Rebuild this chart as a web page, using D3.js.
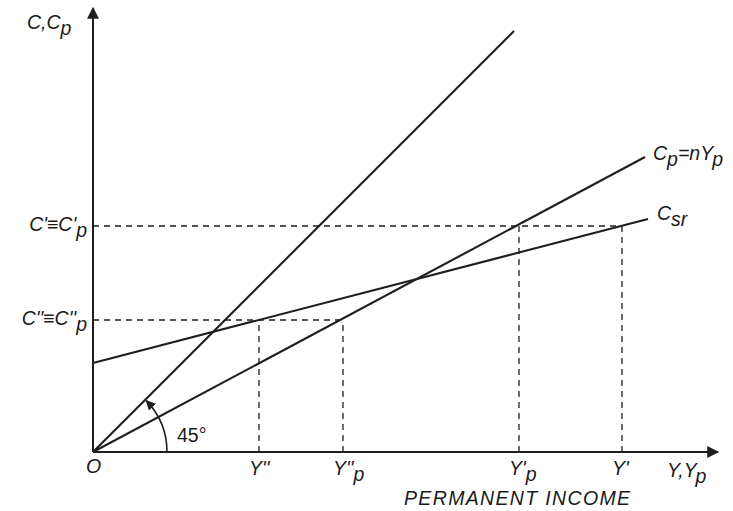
<!DOCTYPE html>
<html><head><meta charset="utf-8">
<script src="https://cdn.jsdelivr.net/npm/d3@7"></script>
<style>
html,body{margin:0;padding:0;background:#fff;}
text{font-family:"Liberation Sans",Arial,sans-serif;fill:#1a1a1a;}
</style></head>
<body><svg id="chart" width="733" height="511"></svg>
<script>
// ---- data (in chart units) ----
const xMax = 625, yMax = 444;
const line45 = [[0, 0], [421, 421]];
const cpLine = [[0, 0], [552, 295]];          // Cp = nYp
const csrLine = [[0, 89], [555, 233]];        // Csr
const yLevels = [132, 226];                   // C'' , C'
const yLevelEnds = [250, 529];                // dashed to Y''p , Y'
const yLabelMain = ["C''≡C''", "C'≡C'"];
const yLabelSub = ["p", "p"];
const xTicks = [166, 250, 426, 529];
const xTickMain = ["Y''", "Y''", "Y'", "Y'"];
const xTickSub = ["", "p", "p", ""];
const xTickTop = [132, 132, 226, 226];
const angleLabel = "45°";

const svg = d3.select("#chart");
const x = d3.scaleLinear().domain([0, xMax]).range([93, 718]);
const y = d3.scaleLinear().domain([0, yMax]).range([452, 8]);
const ink = "#1e1e1e";
const FS = 19.5;

const defs = svg.append("defs");
defs.append("marker").attr("id", "arr").attr("viewBox", "0 0 10 10")
  .attr("refX", 9).attr("refY", 5).attr("markerWidth", 10).attr("markerHeight", 10)
  .attr("markerUnits", "userSpaceOnUse").attr("orient", "auto")
  .append("path").attr("d", "M0,0 L10,5 L0,10 Z").attr("fill", ink);
defs.append("marker").attr("id", "arr2").attr("viewBox", "0 0 10 10")
  .attr("refX", 9).attr("refY", 5).attr("markerWidth", 13).attr("markerHeight", 12)
  .attr("markerUnits", "userSpaceOnUse").attr("orient", "auto")
  .append("path").attr("d", "M0,0 L10,5 L0,10 Z").attr("fill", ink);

// axes
svg.append("line").attr("x1", x(0)).attr("y1", y(0)).attr("x2", x(0)).attr("y2", y(yMax))
  .attr("stroke", ink).attr("stroke-width", 2).attr("marker-end", "url(#arr2)");
svg.append("line").attr("x1", x(0)).attr("y1", y(0)).attr("x2", x(xMax)).attr("y2", y(0))
  .attr("stroke", ink).attr("stroke-width", 2).attr("marker-end", "url(#arr2)");

// dashed guides
const dash = "6,5";
yLevels.forEach((v, i) => {
  svg.append("line").attr("x1", x(0)).attr("x2", x(yLevelEnds[i])).attr("y1", y(v)).attr("y2", y(v))
    .attr("stroke", ink).attr("stroke-width", 1.3).attr("stroke-dasharray", dash);
});
xTicks.forEach((v, i) => {
  svg.append("line").attr("x1", x(v)).attr("x2", x(v)).attr("y1", y(0)).attr("y2", y(xTickTop[i]))
    .attr("stroke", ink).attr("stroke-width", 1.3).attr("stroke-dasharray", dash);
});

// lines
const lineGen = d3.line().x(d => x(d[0])).y(d => y(d[1]));
[line45, cpLine, csrLine].forEach(d => {
  svg.append("path").attr("d", lineGen(d)).attr("fill", "none")
    .attr("stroke", ink).attr("stroke-width", 2.1);
});

// 45° arc
const r = x(74) - x(0);
const ox = x(0), oy = y(0);
const a = Math.PI / 4;
svg.append("path")
  .attr("d", `M${ox + r},${oy} A${r},${r} 0 0 0 ${ox + r * Math.cos(a) + 1},${oy - r * Math.sin(a) + 1}`)
  .attr("fill", "none").attr("stroke", ink).attr("stroke-width", 1.6).attr("marker-end", "url(#arr)");
svg.append("text").attr("x", ox + 84).attr("y", oy - 10).attr("font-size", FS).text(angleLabel);

// helper for main+subscript text
function label(xp, yp, parts, anchor, size) {
  const t = svg.append("text").attr("x", xp).attr("y", yp).attr("font-size", size)
    .attr("font-style", "italic").attr("text-anchor", anchor);
  let shift = 0;
  parts.forEach(([s, sub]) => {
    if (!s) return;
    const target = sub ? 6 : 0;
    t.append("tspan").attr("dy", target - shift).text(s);
    shift = target;
  });
  return t;
}

// y labels
yLevels.forEach((v, i) => label(x(0) - 6, y(v) + 5, [[yLabelMain[i], 0], [yLabelSub[i], 1]], "end", FS));
label(27, 29, [["C,C", 0], ["p", 1]], "start", FS);

// x labels
xTicks.forEach((v, i) => label(x(v) - 10, y(0) + 23, [[xTickMain[i], 0], [xTickSub[i], 1]], "start", FS));
label(x(0) - 7, y(0) + 21, [["O", 0]], "start", FS);
label(667, y(0) + 25, [["Y,Y", 0], ["p", 1]], "start", FS);
svg.append("text").attr("x", 404).attr("y", 505).attr("font-size", FS)
  .attr("font-style", "italic").attr("textLength", 226).text("PERMANENT INCOME");

// line labels
label(x(cpLine[1][0]) + 8, y(cpLine[1][1]) + 3, [["C", 0], ["p", 1], ["=nY", 0], ["p", 1]], "start", FS);
label(x(csrLine[1][0]) + 9, y(csrLine[1][1]) + 1, [["C", 0], ["sr", 1]], "start", FS);
</script></body></html>
